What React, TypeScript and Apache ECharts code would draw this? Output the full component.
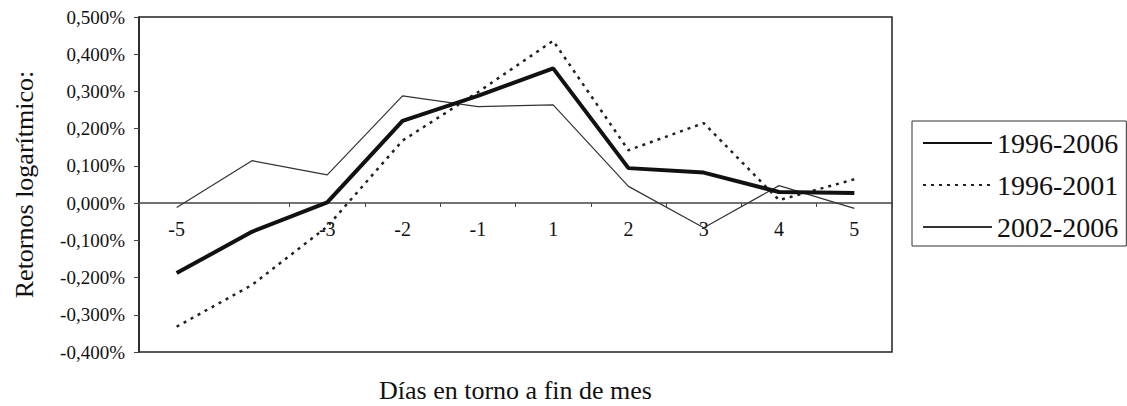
import React, { useEffect, useRef } from "react";
import * as echarts from "echarts";

const categories = ["-5", "-4", "-3", "-2", "-1", "1", "2", "3", "4", "5"];
const serie19962006 = [-0.188, -0.077, 0.002, 0.221, 0.288, 0.362, 0.094, 0.082, 0.03, 0.027];
const serie19962001 = [-0.332, -0.22, -0.063, 0.168, 0.298, 0.436, 0.142, 0.215, 0.008, 0.064];
const serie20022006 = [-0.012, 0.114, 0.076, 0.288, 0.259, 0.264, 0.045, -0.066, 0.047, -0.014];
const seriesNames = ["1996-2006", "1996-2001", "2002-2006"];

const FONT = "'Liberation Serif', 'Times New Roman', serif";

export default function App() {
  const ref = useRef<HTMLDivElement>(null);
  useEffect(() => {
    if (!ref.current) return;
    const chart = echarts.init(ref.current, undefined, { renderer: "svg" });
    chart.setOption({
      animation: false,
      backgroundColor: "#ffffff",
      textStyle: { fontFamily: FONT, color: "#111" },
      grid: {
        left: 139,
        top: 17,
        width: 753,
        height: 335,
        containLabel: false,
        outerBoundsMode: "none",
        show: true,
        borderColor: "#222",
        borderWidth: 1.5,
        backgroundColor: "transparent",
      },
      legend: {
        left: 912,
        top: 121,
        orient: "vertical",
        data: seriesNames,
        itemWidth: 69,
        itemHeight: 14,
        itemGap: 14,
        padding: [8, 8, 5, 10],
        borderColor: "#333",
        borderWidth: 1,
        itemStyle: { opacity: 0 },
        textStyle: { fontFamily: FONT, fontSize: 28, color: "#111" },
      },
      xAxis: {
        type: "category",
        data: categories,
        boundaryGap: true,
        position: "bottom",
        offset: -149,
        axisLine: { onZero: false, lineStyle: { color: "#444", width: 1.5 } },
        axisTick: { show: true, length: 4, lineStyle: { color: "#444" } },
        axisLabel: {
          fontFamily: FONT,
          fontSize: 20,
          color: "#111",
          margin: 16,
          interval: (index: number) => index !== 1,
        },
        name: "Días en torno a fin de mes",
        nameLocation: "middle",
        nameGap: 174,
        nameTextStyle: { fontFamily: FONT, fontSize: 26, color: "#111" },
        splitLine: { show: false },
      },
      yAxis: {
        type: "value",
        min: -0.4,
        max: 0.5,
        interval: 0.1,
        axisLine: { show: true, lineStyle: { color: "#222", width: 1.5 } },
        axisTick: { show: true, length: 5, lineStyle: { color: "#444" } },
        splitLine: { show: false },
        axisLabel: {
          fontFamily: FONT,
          fontSize: 19,
          color: "#111",
          margin: 14,
          formatter: (v: number) => {
            const x = Math.abs(v) < 1e-9 ? 0 : v;
            return x.toFixed(3).replace(".", ",") + "%";
          },
        },
        name: "Retornos logarítmico:",
        nameLocation: "middle",
        nameRotate: 90,
        nameGap: 102,
        nameTextStyle: { fontFamily: FONT, fontSize: 26, color: "#111" },
      },
      series: [
        {
          name: seriesNames[0],
          type: "line",
          data: serie19962006,
          symbol: "none",
          z: 4,
          lineStyle: { color: "#111", width: 4, type: "solid" },
          itemStyle: { color: "#111" },
        },
        {
          name: seriesNames[1],
          type: "line",
          data: serie19962001,
          symbol: "none",
          z: 3,
          lineStyle: { color: "#222", width: 2.5, type: [3, 5] },
          itemStyle: { color: "#222" },
        },
        {
          name: seriesNames[2],
          type: "line",
          data: serie20022006,
          symbol: "none",
          z: 2,
          lineStyle: { color: "#333", width: 1.2, type: "solid" },
          itemStyle: { color: "#333" },
        },
      ],
    });
    return () => chart.dispose();
  }, []);
  return (
    <div
      ref={ref}
      style={{ position: "fixed", left: 0, top: 0, width: 1127, height: 406, background: "#fff" }}
    />
  );
}
